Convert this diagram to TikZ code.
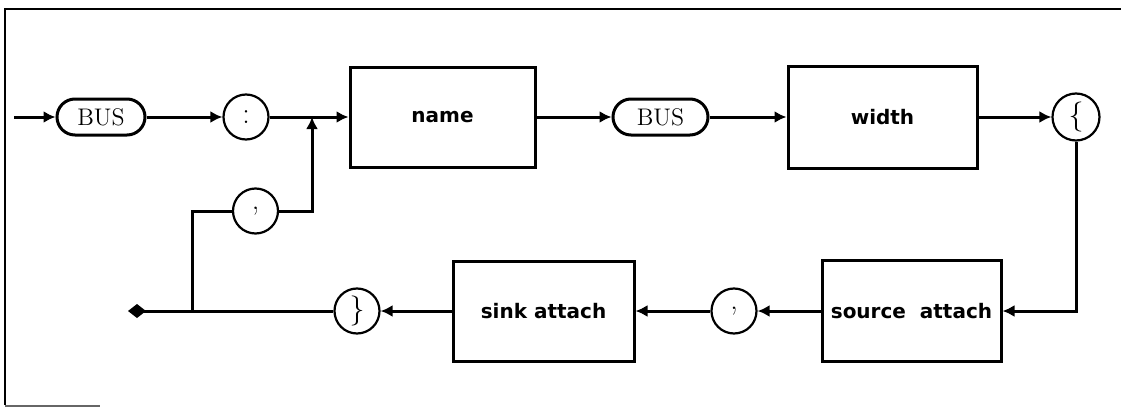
\documentclass[tikz,border=0pt]{standalone}
\usepackage{fontspec}
\newfontfamily\boxfont{DejaVu Sans}
\usetikzlibrary{arrows.meta}
\begin{document}
\begin{tikzpicture}[x=0.5pt,y=-0.5pt,
  every path/.style={line width=1.5pt},
  arr/.style={-{Latex[length=6pt,width=6pt]}},
  endarr/.style={-{Kite[length=9pt,width=7pt,inset=4.5pt]}},
  capsule/.style={draw,line width=1.5pt,rounded corners=9pt,inner sep=0pt,
    minimum height=18pt,font=\fontsize{12}{14}\selectfont},
  sbox/.style={draw,line width=1.5pt,inner sep=0pt,minimum height=50pt,
    font=\boxfont\bfseries\fontsize{10}{12}\selectfont},
  term/.style={draw,circle,line width=1.1pt,inner sep=0pt,minimum size=22.5pt,
    font=\fontsize{15}{17}\selectfont}]
\useasboundingbox (0,0) rectangle (1121,407);
% frame
\draw[line width=1.1pt] (1121,9) -- (5,9) -- (5,405);
\draw[line width=1pt,black!60] (5,406) -- (100,406);
% top row
\coordinate (start) at (14,117);
\node[capsule,minimum width=44pt] (bus1) at (101,117) {BUS};
\node[term] (colon) at (246,117) {:};
\node[sbox,minimum width=92.5pt] (name) at (442.5,117) {name};
\node[capsule,minimum width=47.5pt] (bus2) at (660.5,117) {BUS};
\node[sbox,minimum width=94.5pt,minimum height=51pt] (width) at (882.5,117) {width};
\node[term,minimum size=23.5pt] (lbrace) at (1076,117) {\{};
% bottom row
\node[sbox,minimum width=89.5pt,minimum height=50.5pt] (source) at (911.5,311) {source\ \ attach};
\node[term] (comma2) at (734,311) {\raisebox{1pt}{,}};
\node[sbox,minimum width=90.5pt] (sink) at (543.5,311) {sink attach};
\node[term] (rbrace) at (357,311) {\}};
\coordinate (end) at (128,311);
% loop
\node[term] (comma1) at (255.5,211) {\raisebox{1pt}{,}};
\coordinate (j1) at (192,311);
\coordinate (j2) at (312,117);
% connectors
\draw[arr] (start) -- (bus1);
\draw[arr] (bus1) -- (colon);
\draw[arr] (colon) -- (name);
\draw[arr] (name) -- (bus2);
\draw[arr] (bus2) -- (width);
\draw[arr] (width) -- (lbrace);
\draw[arr] (lbrace.south) |- (source.east);
\draw[arr] (source) -- (comma2);
\draw[arr] (comma2) -- (sink);
\draw[arr] (sink) -- (rbrace);
\draw[endarr] (rbrace) -- (end);
\draw (j1) |- (comma1);
\draw[arr] (comma1) -| (j2);
\end{tikzpicture}
\end{document}
